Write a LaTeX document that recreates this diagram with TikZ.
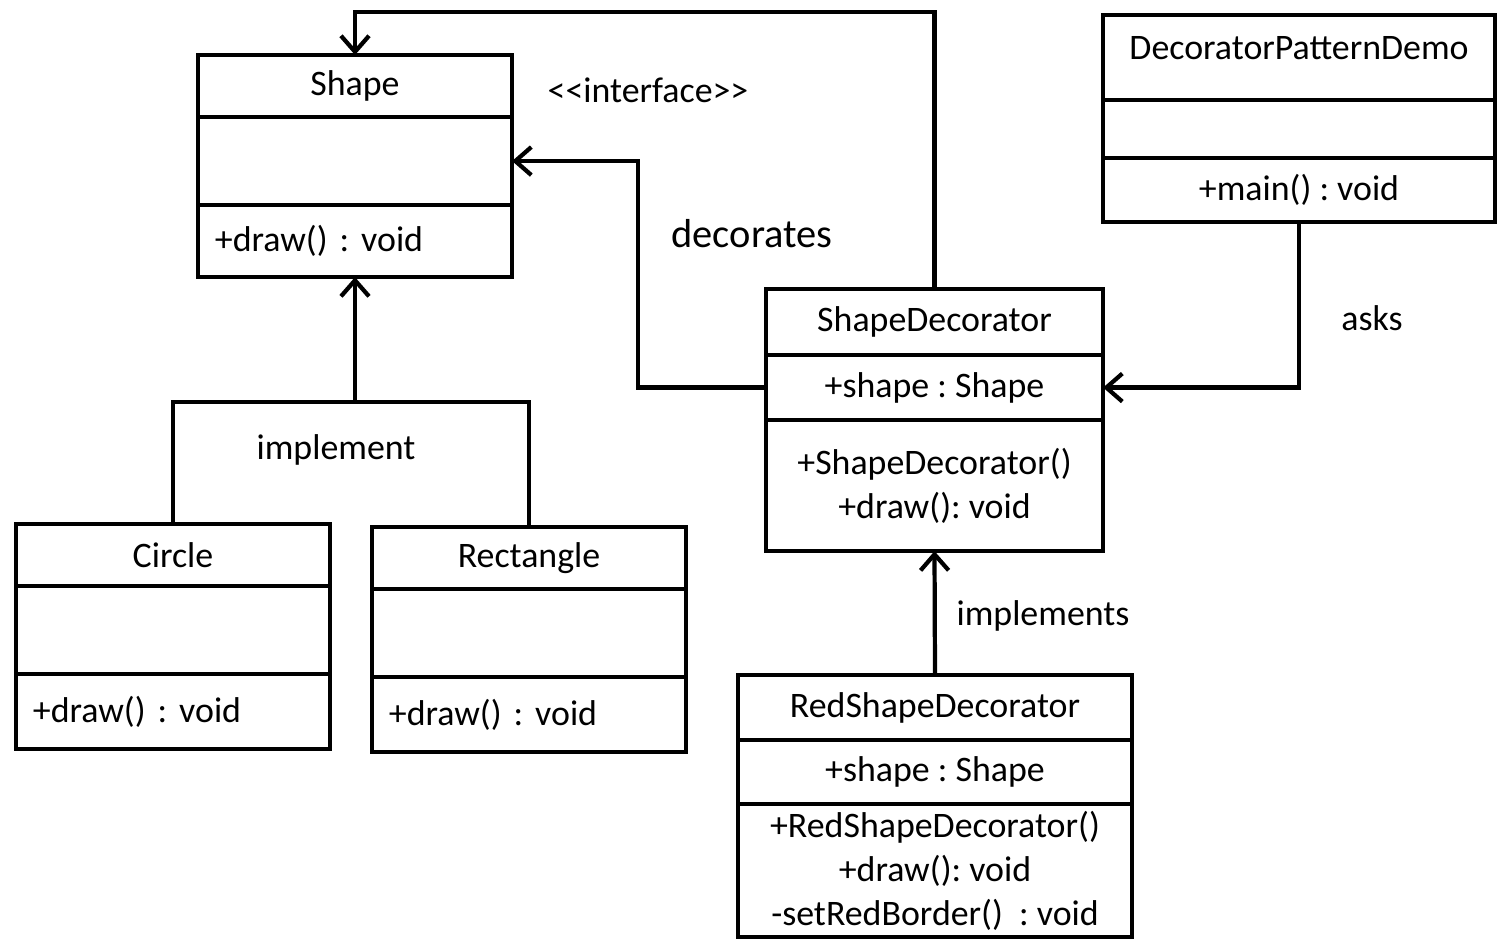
\documentclass[tikz,border=0pt]{standalone}
\usepackage{fontspec}
\setmainfont{Carlito}
\usepackage{tikz}
\usetikzlibrary{positioning,arrows.meta}
\frenchspacing

\tikzset{
  classbox/.style={draw, line width=1.2pt, inner xsep=0.17cm, inner ysep=0pt,
    outer sep=0pt, minimum width=#1, align=center},
  leftops/.style={text width=#1, align=left},
  assoc/.style={line width=1.2pt, -{Straight Barb[length=1.6mm,width=2.8mm]}},
  plainline/.style={line width=1.2pt},
  lbl/.style={inner sep=0pt}
}

\begin{document}
\begin{tikzpicture}[x=0.01cm, y=-0.01cm, font=\fontsize{10.2}{12.5}\selectfont\frenchspacing]
\useasboundingbox (0,0) rectangle (1497,939);

% Shape interface
\node[classbox=3.14cm, minimum height=0.62cm, anchor=north] (shapeT) at (355,55) {Shape};
\node[classbox=3.14cm, minimum height=0.88cm, below=0pt of shapeT] (shapeA) {};
\node[classbox=3.14cm, leftops=2.8cm, minimum height=0.72cm, below=0pt of shapeA] (shapeO) {+draw() : void};

% Circle and Rectangle
\node[classbox=3.14cm, minimum height=0.62cm, anchor=north] (circT) at (173,524) {Circle};
\node[classbox=3.14cm, minimum height=0.88cm, below=0pt of circT] (circA) {};
\node[classbox=3.14cm, leftops=2.8cm, minimum height=0.75cm, below=0pt of circA] (circO) {+draw() : void};

\node[classbox=3.14cm, minimum height=0.62cm, anchor=north] (rectT) at (529,527) {Rectangle};
\node[classbox=3.14cm, minimum height=0.88cm, below=0pt of rectT] (rectA) {};
\node[classbox=3.14cm, leftops=2.8cm, minimum height=0.75cm, below=0pt of rectA] (rectO) {+draw() : void};

% DecoratorPatternDemo
\node[classbox=3.92cm, minimum height=0.85cm, text depth=5.4pt, anchor=north] (demoT) at (1299,15) {DecoratorPatternDemo};
\node[classbox=3.92cm, minimum height=0.58cm, below=0pt of demoT] (demoA) {};
\node[classbox=3.92cm, minimum height=0.64cm, below=0pt of demoA] (demoO) {+main() : void};

% ShapeDecorator
\node[classbox=3.37cm, minimum height=0.66cm, anchor=north] (sdT) at (934.5,289) {ShapeDecorator};
\node[classbox=3.37cm, minimum height=0.65cm, below=0pt of sdT] (sdA) {+shape : Shape};
\node[classbox=3.37cm, minimum height=1.31cm, below=0pt of sdA] (sdO) {+ShapeDecorator()\\+draw(): void};

% RedShapeDecorator
\node[classbox=3.94cm, minimum height=0.65cm, anchor=north] (redT) at (935,675) {RedShapeDecorator};
\node[classbox=3.94cm, minimum height=0.64cm, below=0pt of redT] (redA) {+shape : Shape};
\node[classbox=3.94cm, minimum height=1.33cm, below=0pt of redA] (redO) {+RedShapeDecorator()\\+draw(): void\\-setRedBorder()\ \ : void};

% Connectors
\coordinate (topRail) at (0,12);
\draw[assoc] (sdT.north) -- (sdT.north |- topRail) -| (shapeT.north);
\coordinate (decBend) at (638,0);
\draw[assoc] (sdA.west) -| (decBend |- shapeA.east) -- (shapeA.east);

\coordinate (implJoin) at (0,402);
\draw[plainline] (circT.north) -- (circT.north |- implJoin) -- (rectT.north |- implJoin) -- (rectT.north);
\draw[assoc] (shapeO.south |- implJoin) -- (shapeO.south);

\draw[assoc] (demoO.south) |- (sdA.east);
\draw[assoc] (redT.north) -- (sdO.south);

% Labels
\node[lbl] (ifaceLbl) at (648,90) {<\kern0pt<interface>\kern0pt>};
\node[lbl, font=\fontsize{11.5}{14}\selectfont] (decLbl) at (752,234) {decorates};
\node[lbl] (implLbl) at (336,450) {implement};
\node[lbl] (asksLbl) at (1372,318) {asks};
\node[lbl] (implsLbl) at (1043,616) {implements};
\end{tikzpicture}
\end{document}
